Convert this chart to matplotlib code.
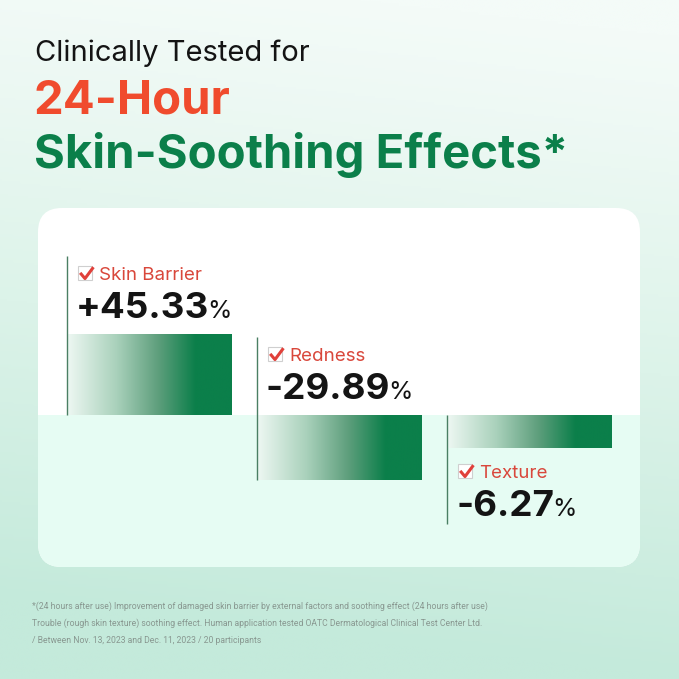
import matplotlib.pyplot as plt
import numpy as np
from matplotlib.patches import FancyBboxPatch, Rectangle
from matplotlib.colors import LinearSegmentedColormap
from matplotlib.path import Path

# data
categories = ['Skin Barrier', 'Redness', 'Texture']
values = [45.33, -29.89, -6.27]
bar_len = [81, -65, -33]   # bar lengths as drawn in the original (not to scale)
title1 = 'Clinically Tested for'
title2 = '24-Hour'
title3 = 'Skin-Soothing Effects*'
notes = ['*(24 hours after use) Improvement of damaged skin barrier by external factors and soothing effect (24 hours after use)',
         'Trouble (rough skin texture) soothing effect. Human application tested OATC Dermatological Clinical Test Center Ltd.',
         '/ Between Nov. 13, 2023 and Dec. 11, 2023 / 20 participants']

label_side = ['above', 'above', 'below']

RED = '#f04b2d'
GREEN = '#0b7f4a'
LABEL_RED = '#d9473b'

W = H = 679
fig = plt.figure(figsize=(6.79, 6.79), dpi=100)

# background axes in pixel units
bg = fig.add_axes([0, 0, 1, 1])
bg.set_xlim(0, W)
bg.set_ylim(H, 0)
bg.axis('off')

yy, xx = np.mgrid[0:1:300j, 0:1:300j]
t = np.clip(yy * 1.05 + (1 - xx) * 0.12 - 0.05, 0, 1) ** 1.1
bg_cmap = LinearSegmentedColormap.from_list('bg', ['#f4fbf8', '#dcf3e9', '#c4eadb'])
bg.imshow(t, extent=(0, W, H, 0), cmap=bg_cmap, aspect='auto', zorder=0)

card = FancyBboxPatch((38, 208), 602, 359, boxstyle='round,pad=0,rounding_size=24',
                      fc='white', ec='none', zorder=1)
bg.add_patch(card)

# titles
bg.text(35, 61, title1, fontsize=21, family='Inter', color='#141414', va='baseline')
bg.text(34, 114, title2, fontsize=34, family='Inter', weight='bold', color=RED, va='baseline')
bg.text(34, 168, title3, fontsize=34, family='Inter', weight='bold', color=GREEN, va='baseline')

for i, line in enumerate(notes):
    bg.text(32, 609 + i * 17, line, fontsize=6.2, color='#889790', va='baseline',
            family=['Roboto', 'DejaVu Sans'])

# chart axes over the card
ax = fig.add_axes([38 / W, (H - 567) / H, 602 / W, 359 / H])
ax.patch.set_alpha(0)
ax.axis('off')
xmin, xmax = -0.584, 2.584
ymin, ymax = -152, 207
px = 190.0  # pixels per category unit

lower = Rectangle((xmin, ymin), xmax - xmin, -ymin, fc='#e6fcf3', ec='none', zorder=1)
ax.add_patch(lower)
lower.set_clip_path(card)

bar_cmap = LinearSegmentedColormap.from_list(
    'bar', [(0, '#eef8f3'), (0.3, '#a9d1bb'), (0.55, '#5f9f7d'), (0.78, GREEN), (1, GREEN)])
grad = np.linspace(0, 1, 256)[None, :]
bw = 164 / px

check = Path([(-0.5, 0.05), (-0.12, -0.4), (0.55, 0.5)],
             [Path.MOVETO, Path.LINETO, Path.LINETO])

for i, (cat, v, h) in enumerate(zip(categories, values, bar_len)):
    x0 = i - bw / 2
    ax.imshow(grad, extent=(x0, x0 + bw, min(0, h), max(0, h)), cmap=bar_cmap,
              aspect='auto', zorder=3, interpolation='bilinear')
    if label_side[i] == 'above':
        vbase = max(h, 0) + 16
        cbase = vbase + 38
        ytop = cbase + 24
        ybot = min(h, 0)
    else:
        cbase = h - 30
        vbase = cbase - 38
        ytop = 0
        ybot = vbase - 8
    ax.vlines(x0, ybot, ytop, color='#4a7f63', lw=1, zorder=4)
    # checkbox + category
    cx = x0 + 18 / px
    ax.plot(cx, cbase + 7, marker='s', ms=9.5, mfc='white', mec='#cfcfcf', mew=0.8, zorder=5)
    ax.plot(cx + 1 / px, cbase + 7, marker=check, ms=10, mfc='none', mec='#e0403a',
            mew=2.2, zorder=6)
    ax.text(x0 + 32 / px, cbase, cat, fontsize=13.5, family='Inter', color=LABEL_RED,
            va='baseline', zorder=5)
    num = ax.text(x0 + 9 / px, vbase, f'{v:+.2f}', fontsize=26.5, family='Inter',
                  weight='bold', color='#141414', va='baseline', zorder=5)
    ax.annotate('%', xy=(1, vbase), xycoords=(num, 'data'), xytext=(-1.5, 0),
                textcoords='offset points', fontsize=18, family='Inter',
                color='#141414', va='baseline', zorder=5)

ax.set_xlim(xmin, xmax)
ax.set_ylim(ymin, ymax)

fig.savefig('out.png', dpi=100)
